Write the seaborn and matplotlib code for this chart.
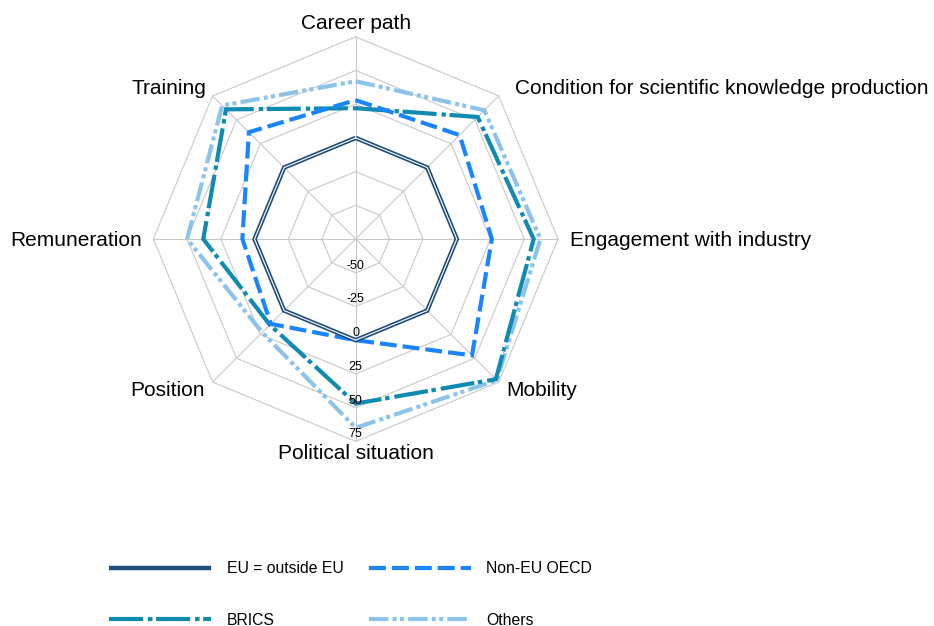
import numpy as np
import pandas as pd
import matplotlib
matplotlib.use("Agg")
import matplotlib.pyplot as plt
import seaborn as sns

categories = ["Career path", "Condition for scientific knowledge production",
              "Engagement with industry", "Mobility", "Political situation",
              "Position", "Remuneration", "Training"]
eu_outside = [0, 0, 0, 0, 0, 0, 0, 0]
non_eu_oecd = [28, 34, 26, 47, 0, 14, 9, 37]
brics = [22, 53, 57, 72, 47, 15, 38, 61]
others = [42, 60, 62, 73, 65, 23, 50, 65]
series_names = ["EU = outside EU", "Non-EU OECD", "BRICS", "Others"]
radial_ticks = [-50, -25, 0, 25, 50, 75]
r_min, r_max = -75, 75

sns.set_theme(style="white")
plt.rcParams["font.family"] = ["Liberation Sans", "DejaVu Sans"]
plt.rcParams["lines.scale_dashes"] = False
plt.rcParams["text.color"] = "black"

fig = plt.figure(figsize=(9.34, 6.26), dpi=100)
ax = fig.add_axes([0.1642, 0.295, 0.4332, 0.6463], projection="polar")
ax.set_theta_offset(np.pi / 2)
ax.set_theta_direction(-1)
ax.set_facecolor("none")

n = len(categories)
theta = np.arange(n) * 2 * np.pi / n
theta_c = np.append(theta, theta[0] + 2 * np.pi)

grid_col = "#c9c9c9"
for v in radial_ticks:
    ax.plot(theta_c, [v] * (n + 1), color=grid_col, lw=0.8, zorder=1, clip_on=False)
for t in theta:
    ax.plot([t, t], [r_min, r_max], color=grid_col, lw=0.8, zorder=1, clip_on=False)

styles = {
    "EU = outside EU": dict(color="#1f4e79", linestyle="-", lw=3.2),
    "Non-EU OECD": dict(color="#1a85ff", linestyle=(0, (12.2, 4.3)), lw=3.0),
    "BRICS": dict(color="#0f8ab0", linestyle=(0, (24.5, 3.6, 3.2, 2.6)), lw=3.0),
    "Others": dict(color="#8cc3ea", linestyle=(0, (14.0, 3.0, 2.9, 2.4, 2.9, 3.0)), lw=3.0),
}
values = {"EU = outside EU": eu_outside, "Non-EU OECD": non_eu_oecd,
          "BRICS": brics, "Others": others}

handle_map = {}
for i, name in enumerate(series_names[::-1]):
    vals = values[name]
    df = pd.DataFrame({"theta": theta_c, "value": list(vals) + [vals[0]]})
    st = styles[name]
    sns.lineplot(data=df, x="theta", y="value", ax=ax, sort=False, color=st["color"],
                 linestyle=st["linestyle"], linewidth=st["lw"], zorder=3 + i,
                 clip_on=False, legend=False, solid_capstyle="butt",
                 dash_capstyle="butt", solid_joinstyle="miter", dash_joinstyle="miter")
    handle_map[name] = ax.lines[-1]
    if name == "EU = outside EU":
        sns.lineplot(data=df, x="theta", y="value", ax=ax, sort=False, color="white",
                     linewidth=0.8, zorder=4 + i, clip_on=False, legend=False,
                     solid_joinstyle="miter")

ax.set_ylim(r_min, r_max)
ax.set_xticks([])
ax.set_yticks([])
ax.grid(False)
ax.spines["polar"].set_visible(False)
ax.set_xlabel("")
ax.set_ylabel("")

# category labels
offsets = [(0, 13, "center"), (16, 7, "left"), (12, -1, "left"), (8, -8, "left"),
           (0, -12, "center"), (-8, -8, "right"), (-11, -1, "right"), (-6, 7, "right")]
for t, lab, (dx, dy, ha) in zip(theta, categories, offsets):
    ax.annotate(lab, xy=(t, r_max), xytext=(dx, dy), textcoords="offset pixels",
                ha=ha, va="center", fontsize=15, color="black", annotation_clip=False)

# radial labels along the downward axis
for v in radial_ticks:
    ax.annotate(str(v), xy=(np.pi, v), xytext=(0, 7), textcoords="offset pixels",
                ha="center", va="center", fontsize=9, color="black", zorder=10,
                annotation_clip=False)

# legend: row 1 = EU, Non-EU OECD; row 2 = BRICS, Others (column-major fill)
leg_order = ["EU = outside EU", "BRICS", "Non-EU OECD", "Others"]
leg = fig.legend([handle_map[k] for k in leg_order], leg_order, loc="upper left",
                 bbox_to_anchor=(0.1167, 0.1036), ncol=2, frameon=False, fontsize=11.3,
                 handlelength=6.5, handletextpad=1.0, columnspacing=1.6,
                 labelspacing=2.33, borderpad=0, borderaxespad=0)
for txt in leg.get_texts():
    txt.set_color("black")
for lh in leg.get_lines():
    lh.set_solid_capstyle("butt")
    lh.set_dash_capstyle("butt")

fig.savefig("out.png", dpi=100)
